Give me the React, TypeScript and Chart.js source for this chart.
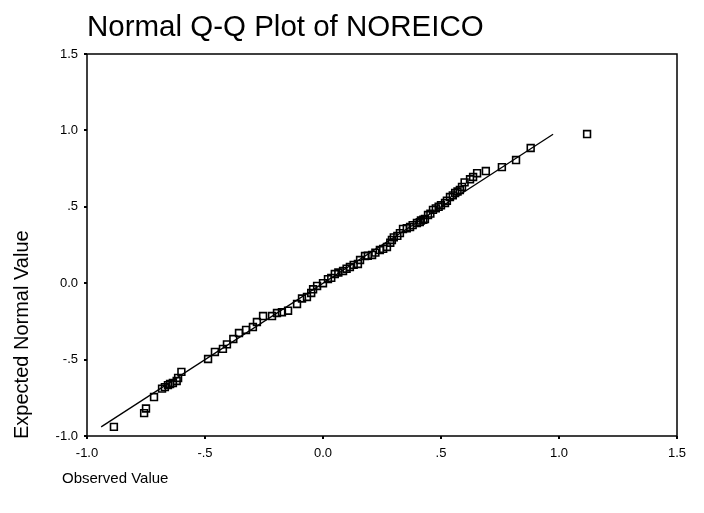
import React, { useEffect, useRef } from "react";
import { Chart, registerables } from "chart.js";
Chart.register(...registerables);

const observed = [
  -0.886, -0.758, -0.75, -0.716, -0.682, -0.67, -0.657, -0.648, -0.636, -0.62, -0.614, -0.6,
  -0.487, -0.458, -0.424, -0.407, -0.38, -0.356, -0.326, -0.297, -0.28, -0.254, -0.216,
  -0.195, -0.174, -0.148, -0.11, -0.089, -0.068, -0.05, -0.042, -0.025, 0.0, 0.021, 0.035,
  0.05, 0.065, 0.085, 0.1, 0.114, 0.13, 0.148, 0.157, 0.178, 0.19, 0.208, 0.222, 0.241,
  0.255, 0.271, 0.285, 0.292, 0.3, 0.315, 0.326, 0.339, 0.355, 0.369, 0.38, 0.398, 0.41,
  0.415, 0.425, 0.432, 0.445, 0.455, 0.466, 0.478, 0.49, 0.5, 0.517, 0.525, 0.538, 0.55,
  0.56, 0.57, 0.58, 0.589, 0.6, 0.623, 0.636, 0.653, 0.69, 0.758, 0.818, 0.88, 1.119,
];
const expected = [
  -0.94, -0.85, -0.82, -0.745, -0.69, -0.68, -0.667, -0.66, -0.653, -0.64, -0.62, -0.58,
  -0.496, -0.45, -0.43, -0.4, -0.365, -0.326, -0.306, -0.287, -0.254, -0.215, -0.215,
  -0.195, -0.19, -0.18, -0.136, -0.1, -0.09, -0.064, -0.04, -0.018, 0.0, 0.027, 0.035,
  0.06, 0.07, 0.08, 0.095, 0.106, 0.12, 0.126, 0.152, 0.178, 0.18, 0.185, 0.2, 0.217,
  0.225, 0.237, 0.265, 0.283, 0.3, 0.31, 0.328, 0.355, 0.36, 0.368, 0.38, 0.394, 0.4,
  0.41, 0.415, 0.42, 0.446, 0.455, 0.48, 0.49, 0.5, 0.51, 0.525, 0.54, 0.564, 0.575,
  0.59, 0.6, 0.61, 0.63, 0.66, 0.68, 0.695, 0.72, 0.734, 0.76, 0.806, 0.885, 0.976,
];
const lineStart = -0.94;
const lineEnd = 0.975;
const tickValues = [-1, -0.5, 0, 0.5, 1, 1.5];
const tickLabels = ["-1.0", "-.5", "0.0", ".5", "1.0", "1.5"];
const titleText = "Normal Q-Q Plot of NOREICO";
const xTitle = "Observed Value";
const yTitle = "Expected Normal Value";

const FONT = "'Liberation Sans', Arial, sans-serif";

const decorPlugin = {
  id: "decor",
  afterDraw(chart: any) {
    const ctx = chart.ctx;
    const { left, top, right, bottom } = chart.chartArea;
    ctx.save();
    ctx.strokeStyle = "#000";
    ctx.lineWidth = 1.5;
    ctx.strokeRect(left, top, right - left, bottom - top);
    ctx.fillStyle = "#000";
    ctx.font = `29.5px ${FONT}`;
    ctx.textAlign = "left";
    ctx.textBaseline = "alphabetic";
    ctx.fillText(titleText, left, 36);
    ctx.font = `15px ${FONT}`;
    ctx.textBaseline = "middle";
    ctx.fillText(xTitle, 62, 479);
    ctx.font = `20px ${FONT}`;
    ctx.translate(22, bottom + 3);
    ctx.rotate(-Math.PI / 2);
    ctx.textAlign = "left";
    ctx.fillText(yTitle, 0, 0);
    ctx.restore();
  },
};

function axis(kind: "x" | "y") {
  return {
    type: "linear" as const,
    min: -1,
    max: 1.5,
    afterBuildTicks: (scale: any) => {
      scale.ticks = tickValues.map((v) => ({ value: v }));
    },
    afterFit: (scale: any) => {
      if (kind === "y") scale.width = 87;
      else scale.height = 77;
    },
    grid: {
      display: true,
      drawOnChartArea: false,
      drawTicks: true,
      tickLength: 3,
      color: "#000",
      lineWidth: 2,
    },
    border: { display: false },
    ticks: {
      color: "#000",
      font: { family: FONT, size: 13 },
      padding: kind === "x" ? 7 : 6,
      maxRotation: 0,
      autoSkip: false,
      callback: (v: any) => {
        const i = tickValues.findIndex((t) => Math.abs(t - Number(v)) < 1e-9);
        return i >= 0 ? tickLabels[i] : "";
      },
    },
  };
}

export default function App() {
  const ref = useRef<HTMLCanvasElement>(null);
  useEffect(() => {
    document.body.style.margin = "0";
    const pts = observed.map((x, i) => ({ x, y: expected[i] }));
    const chart = new Chart(ref.current!, {
      type: "scatter",
      data: {
        datasets: [
          {
            data: pts,
            pointStyle: "rect",
            pointRadius: 4.8,
            pointBorderWidth: 1.6,
            pointBorderColor: "#000",
            pointBackgroundColor: "rgba(0,0,0,0)",
            showLine: false,
          },
          {
            data: [
              { x: lineStart, y: lineStart },
              { x: lineEnd, y: lineEnd },
            ],
            showLine: true,
            borderColor: "#000",
            borderWidth: 1.3,
            pointRadius: 0,
          },
        ],
      },
      options: {
        animation: false,
        responsive: false,
        layout: { padding: { left: 0, top: 54, right: 27, bottom: 0 } },
        plugins: { legend: { display: false }, tooltip: { enabled: false }, title: { display: false } },
        scales: { x: axis("x"), y: axis("y") },
      },
      plugins: [decorPlugin],
    } as any);
    return () => chart.destroy();
  }, []);
  return (
    <div style={{ width: 704, height: 513, background: "#fff" }}>
      <canvas ref={ref} width={704} height={513} />
    </div>
  );
}
